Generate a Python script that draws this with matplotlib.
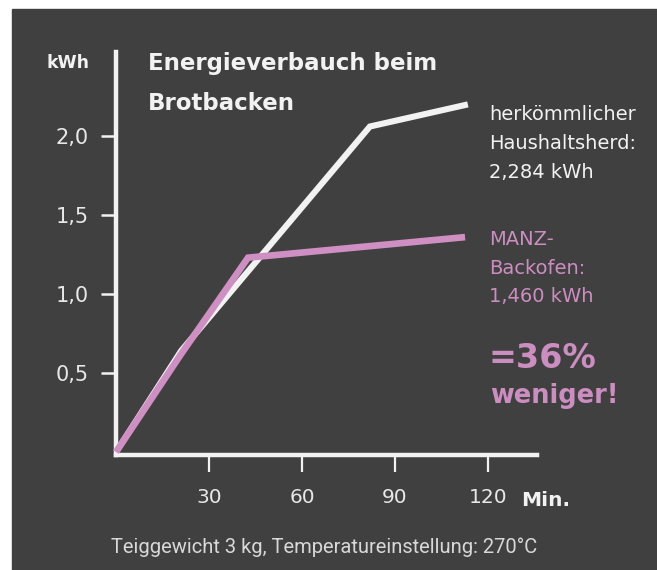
import matplotlib
matplotlib.use("Agg")
import matplotlib.pyplot as plt
from matplotlib.patches import Rectangle

# data (minutes, kWh)
minutes_herd = [0, 21, 81.9, 113.5]
kwh_herd = [0, 0.64, 2.06, 2.20]
minutes_manz = [0, 21, 42.6, 112.6]
kwh_manz = [0, 0.62, 1.23, 1.36]

x_ticks = [30, 60, 90, 120]
x_long_ticks = [60, 120]
y_ticks = [0.5, 1.0, 1.5, 2.0]
y_labels = ["0,5", "1,0", "1,5", "2,0"]

label_herd = ["herkömmlicher", "Haushaltsherd:", "2,284 kWh"]
label_manz = ["MANZ-", "Backofen:", "1,460 kWh"]

BOARD = "#404040"
CHALK = "#f2f2f2"
PINK = "#cf8fc3"
PINK_TXT = "#cc8ec0"
FONT = ["DejaVu Sans"]
NARROW = ["Roboto", "DejaVu Sans"]

W, H = 657, 570
plt.rcParams["font.family"] = FONT


def px(x, y):
    return x / W, 1 - y / H


fig = plt.figure(figsize=(W / 100, H / 100), dpi=100, facecolor="white")
fig.patches.append(Rectangle((12 / W, 0), 1 - 12 / W, 1 - 9 / H,
                             transform=fig.transFigure, color=BOARD, zorder=-1))

left, right, bottom, top = 116, 537, 455, 52
ax = fig.add_axes([left / W, 1 - bottom / H, (right - left) / W, (bottom - top) / H])
ax.set_zorder(2)
ax.set_facecolor("none")
ax.set_xlim(0, (right - left) / 3.1)
ax.set_ylim(-3 / 158, (452 - top) / 158)

ax.plot(minutes_herd, kwh_herd, color=CHALK, lw=4.4, solid_joinstyle="miter",
        solid_capstyle="butt", zorder=3, clip_on=False)
ax.plot(minutes_manz, kwh_manz, color=PINK, lw=4.8, solid_joinstyle="miter",
        solid_capstyle="butt", zorder=4, clip_on=False)

for s in ["top", "right"]:
    ax.spines[s].set_visible(False)
for s in ["left", "bottom"]:
    ax.spines[s].set_color(CHALK)
    ax.spines[s].set_linewidth(3.2)

ax.set_yticks(y_ticks)
ax.set_yticklabels(y_labels)
ax.tick_params(axis="y", colors=CHALK, length=11, width=1.8, pad=8.6,
               labelsize=15, labelcolor="#e8e8e8")
ax.set_xticks(x_ticks)
ax.set_xticklabels([str(t) for t in x_ticks])
ax.set_xticks(x_long_ticks, minor=True)
ax.tick_params(axis="x", which="major", colors=CHALK, length=12.2, width=1.6,
               pad=11.5, labelsize=14.5, labelcolor="#e8e8e8")
ax.tick_params(axis="x", which="minor", colors=CHALK, length=19.4, width=1.6)

# axis units
fig.text(*px(47, 68), "kWh", color=CHALK, fontsize=12.5, fontweight="bold",
         ha="left", va="baseline")
fig.text(*px(521, 506), "Min.", color=CHALK, fontsize=14.5, fontweight="bold",
         ha="left", va="baseline")

# title
fig.text(*px(148, 70), "Energieverbauch beim", color=CHALK, fontsize=16.5,
         fontweight="bold", ha="left", va="baseline")
fig.text(*px(148, 110), "Brotbacken", color=CHALK, fontsize=16.5,
         fontweight="bold", ha="left", va="baseline")

# series labels
for i, line in enumerate(label_herd):
    fig.text(*px(489, 120 + i * 29), line, color=CHALK, fontsize=14,
             ha="left", va="baseline")
for i, line in enumerate(label_manz):
    fig.text(*px(489, 245 + i * 28.5), line, color=PINK_TXT, fontsize=14,
             ha="left", va="baseline")

fig.text(*px(488, 368), "=36%", color=PINK_TXT, fontsize=24, fontweight="bold",
         ha="left", va="baseline")
fig.text(*px(490, 403), "weniger!", color=PINK_TXT, fontsize=18.5,
         fontweight="bold", ha="left", va="baseline")

# footer
fig.text(*px(111, 553), "Teiggewicht 3 kg, Temperatureinstellung: 270°C",
         color="#d8d8d8", fontsize=14.5, family=NARROW, ha="left", va="baseline")

fig.savefig("out.png", dpi=100, facecolor="white")
